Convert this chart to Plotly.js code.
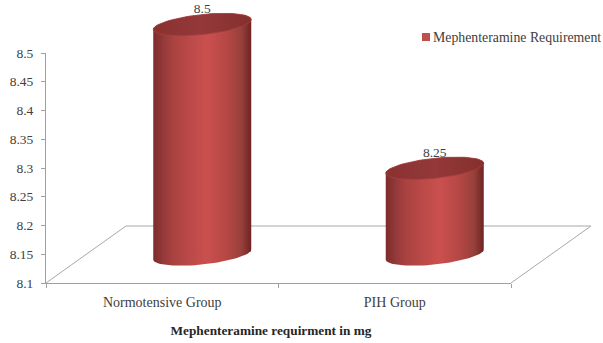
<!DOCTYPE html>
<html>
<head>
<meta charset="utf-8">
<script src="https://cdn.plot.ly/plotly-3.0.1.min.js"></script>
<style>html,body{margin:0;padding:0;background:#fff}</style>
</head>
<body>
<div id="chart" style="width:603px;height:343px"></div>
<script>
// Chart data
const categories = ['Normotensive Group', 'PIH Group'];
const requirement = [8.5, 8.25];
const valueLabels = ['8.5', '8.25'];
const yTickValues = [8.1, 8.15, 8.2, 8.25, 8.3, 8.35, 8.4, 8.45, 8.5];
const yTickLabels = ['8.1', '8.15', '8.2', '8.25', '8.3', '8.35', '8.4', '8.45', '8.5'];
const seriesName = 'Mephenteramine Requirement';
const xTitle = 'Mephenteramine requirment in mg';

// Canvas and the front plane of the chart, in pixels
const WIDTH = 603, HEIGHT = 343;
const LEFT = 46, RIGHT = 511, TOP = 53, BASE = 283;
const X_MIN = -0.5, X_MAX = 1.5, Y_MIN = 8.1, Y_MAX = 8.5;
const X_PER_PX = (X_MAX - X_MIN) / (RIGHT - LEFT);
const Y_PER_PX = (Y_MAX - Y_MIN) / (BASE - TOP);

// Oblique projection: a point half way back on the floor shifts right and up.
const DEPTH_X = 40 * X_PER_PX;
const DEPTH_Y = 28.5 * Y_PER_PX;
const RADIUS_X = 49 * X_PER_PX;
const RADIUS_Y = 10 * Y_PER_PX;
const TILT_Y = 5 * Y_PER_PX;

function rim(center, value, from, to, n) {
  const xs = [], ys = [];
  for (let i = 0; i <= n; i++) {
    const t = from + (to - from) * i / n;
    xs.push(center + DEPTH_X + RADIUS_X * Math.cos(t));
    ys.push(value + DEPTH_Y + RADIUS_Y * Math.sin(t) + TILT_Y * Math.cos(t));
  }
  return {xs, ys};
}

const bodyScale = [
  [0, '#7d2b29'], [0.1, '#93393a'], [0.2, '#a94240'], [0.38, '#bb4a48'],
  [0.55, '#ca504e'], [0.75, '#b54745'], [0.9, '#97403b'], [1, '#6f2422']
];
const topScale = [[0, '#8a3230'], [0.5, '#94383a'], [1, '#85302c']];

const traces = [];

// Floor outline, behind the cylinders; x3/y3 span the whole canvas on the same scale
const farX = X_MIN + 2 * DEPTH_X, farY = Y_MIN + 2 * DEPTH_Y;
traces.push({
  x: [X_MIN, farX, X_MAX + 2 * DEPTH_X, X_MAX],
  y: [Y_MIN, farY, farY, Y_MIN],
  xaxis: 'x3', yaxis: 'y3',
  mode: 'lines', line: {color: '#a8a8a8', width: 1},
  hoverinfo: 'skip', showlegend: false
});

// One cylinder per category: side wall, then the top face over it
requirement.forEach((v, i) => {
  const bottom = rim(i, Y_MIN, Math.PI, 2 * Math.PI, 40);
  const upper = rim(i, v, 0, Math.PI, 40);
  traces.push({
    x: bottom.xs.concat(upper.xs), y: bottom.ys.concat(upper.ys),
    xaxis: 'x3', yaxis: 'y3',
    mode: 'lines', line: {width: 0}, fill: 'toself',
    fillgradient: {type: 'horizontal', colorscale: bodyScale},
    hoverinfo: 'skip', showlegend: false
  });
  const face = rim(i, v, 0, 2 * Math.PI, 80);
  traces.push({
    x: face.xs, y: face.ys,
    xaxis: 'x3', yaxis: 'y3',
    mode: 'lines', line: {width: 0.8, color: '#a33f3d'}, fill: 'toself',
    fillgradient: {type: 'horizontal', colorscale: topScale},
    hoverinfo: 'skip', showlegend: false
  });
});

// Value labels sit just above each top face
traces.push({
  x: requirement.map((v, i) => i + DEPTH_X),
  y: requirement.map(v => v + DEPTH_Y + 14.5 * Y_PER_PX),
  xaxis: 'x3', yaxis: 'y3',
  mode: 'text', text: valueLabels, textposition: 'middle center',
  textfont: {family: 'Liberation Serif', size: 13.5, color: '#404040'},
  hoverinfo: 'skip', showlegend: false
});

// Keeps the category axis in place
traces.push({x: [null], y: [null], xaxis: 'x2', mode: 'markers', hoverinfo: 'skip', showlegend: false});

// Legend entry
traces.push({
  x: [null], y: [null], name: seriesName, mode: 'markers',
  marker: {symbol: 'square', size: 8, color: '#c0504d'}
});

const axisColor = '#a0a0a0';
const tickFont = {family: 'Liberation Serif', size: 13.5, color: '#404040'};

const layout = {
  width: WIDTH, height: HEIGHT, autosize: false,
  margin: {l: 0, r: 0, t: 0, b: 0, pad: 0, autoexpand: false},
  paper_bgcolor: '#fff', plot_bgcolor: 'rgba(0,0,0,0)',
  font: {family: 'Liberation Serif', size: 13, color: '#404040'},
  showlegend: true,
  legend: {
    x: 393 / WIDTH, y: 1 - 37 / HEIGHT, xanchor: 'left', yanchor: 'middle',
    bgcolor: 'rgba(0,0,0,0)', font: {family: 'Liberation Serif', size: 13.8, color: '#404040'}
  },
  // Boundary ticks along the front edge of the floor
  xaxis: {
    domain: [LEFT / WIDTH, RIGHT / WIDTH], anchor: 'y',
    range: [X_MIN, X_MAX], tickmode: 'array', tickvals: [-0.5, 0.5, 1.5], ticktext: ['', '', ''],
    ticks: 'outside', ticklen: 4, tickcolor: axisColor, showline: true, linecolor: axisColor,
    linewidth: 1, showgrid: false, zeroline: false,
    title: {text: xTitle, font: {family: 'Liberation Serif', size: 13.3, color: '#262626', weight: 'bold'}, standoff: 36}
  },
  // Category names centred between the ticks
  xaxis2: {
    overlaying: 'x', anchor: 'y', side: 'bottom', range: [X_MIN, X_MAX],
    tickmode: 'array', tickvals: categories.map((c, i) => i), ticktext: categories,
    ticks: '', showline: false, showgrid: false, zeroline: false,
    ticklabelstandoff: 9,
    tickfont: Object.assign({}, tickFont, {size: 14})
  },
  yaxis: {
    domain: [1 - BASE / HEIGHT, 1 - TOP / HEIGHT], anchor: 'x',
    range: [Y_MIN, Y_MAX], tickmode: 'array', tickvals: yTickValues, ticktext: yTickLabels,
    ticks: 'outside', ticklen: 4, tickcolor: axisColor, showline: true, linecolor: axisColor,
    linewidth: 1, showgrid: false, zeroline: false, ticklabelstandoff: 5,
    tickfont: tickFont
  },
  // Hidden canvas-wide axes that carry the projected marks
  xaxis3: {
    domain: [0, 1], anchor: 'y3', visible: false,
    range: [X_MIN - LEFT * X_PER_PX, X_MAX + (WIDTH - RIGHT) * X_PER_PX]
  },
  yaxis3: {
    domain: [0, 1], anchor: 'x3', visible: false,
    range: [Y_MIN - (HEIGHT - BASE) * Y_PER_PX, Y_MAX + TOP * Y_PER_PX]
  }
};

Plotly.newPlot('chart', traces, layout, {displayModeBar: false, staticPlot: true}).then(gd => {
  // Tighten the gap between the legend swatch and its text
  gd.querySelectorAll('.legend .legendpoints').forEach(g => {
    g.setAttribute('transform', 'translate(13,0)');
  });
  // The axis title sits a little left of the axis centre
  const title = gd.querySelector('.xtitle');
  if (title) title.setAttribute('x', Number(title.getAttribute('x')) - 7.5);
});
</script>
</body>
</html>
